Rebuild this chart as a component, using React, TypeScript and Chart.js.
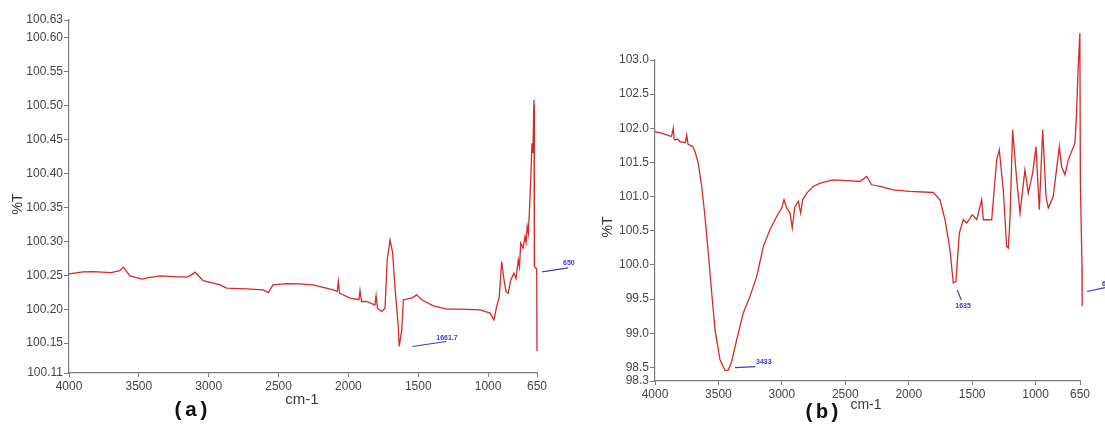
import React, { useEffect, useRef } from "react";
import { Chart, registerables } from "chart.js";
Chart.register(...registerables);

// ---------- shared axis ticks ----------
const xTicks = [4000, 3500, 3000, 2500, 2000, 1500, 1000, 650];

// ---------- panel (a) ----------
const wnA = [
  4000, 3900, 3828, 3700, 3635, 3611, 3563, 3479, 3420, 3349, 3250, 3158, 3122, 3098, 3041,
  2919, 2871, 2728, 2611, 2573, 2540, 2442, 2347, 2253, 2203, 2108, 2080, 2072, 2063, 1989,
  1925, 1917, 1906, 1869, 1810, 1802, 1792, 1762, 1738, 1722, 1702, 1683, 1667, 1643, 1636,
  1618, 1607, 1583, 1547, 1511, 1475, 1392, 1296, 1201, 1058, 986, 958, 939, 920, 903,
  886, 872, 856, 838, 815, 800, 784, 775, 767, 750, 736, 728, 720, 712, 705,
  695, 686, 679, 672, 671, 669, 657, 652, 650,
];
const tA = [
  100.252, 100.255, 100.2554, 100.254, 100.2569, 100.2619, 100.2491, 100.2442, 100.247, 100.2491,
  100.248, 100.2472, 100.2506, 100.2546, 100.2422, 100.2359, 100.231, 100.23, 100.2285, 100.2245,
  100.2359, 100.2378, 100.2373, 100.2359, 100.2333, 100.2285, 100.226, 100.2407, 100.2236, 100.2163,
  100.214, 100.2275, 100.2113, 100.2113, 100.206, 100.2197, 100.2015, 100.1965, 100.2015, 100.2727,
  100.3021, 100.2825, 100.2333, 100.1744, 100.145, 100.1696, 100.2138, 100.2148, 100.2163, 100.2211,
  100.2138, 100.2049, 100.2001, 100.2001, 100.199, 100.1942, 100.1843, 100.2039, 100.2186, 100.2702,
  100.2432, 100.226, 100.2236, 100.2432, 100.2531, 100.245, 100.2727, 100.262, 100.2973, 100.29,
  100.307, 100.298, 100.3217, 100.312, 100.3414, 100.3905, 100.4445, 100.43, 100.5083, 100.5,
  100.263, 100.2604, 100.258, 100.138,
];
const yMinA = 100.106;
const yMaxA = 100.626;
const yTicksA = [100.15, 100.2, 100.25, 100.3, 100.35, 100.4, 100.45, 100.5, 100.55, 100.6];
const annWnA = [1636, 650];
const annTA = [100.145, 100.258];
const annLabelA = ["1661.7", "650"];

// ---------- panel (b) ----------
const wnB = [
  4000, 3950, 3908, 3870, 3856, 3850, 3842, 3820, 3803, 3760, 3750, 3740, 3730, 3703, 3685,
  3659, 3632, 3606, 3580, 3553, 3527, 3488, 3448, 3422, 3395, 3356, 3304, 3251, 3198, 3146,
  3094, 3041, 3001, 2983, 2962, 2936, 2918, 2897, 2870, 2852, 2836, 2804, 2752, 2699, 2595,
  2489, 2384, 2331, 2292, 2227, 2122, 1990, 1806, 1754, 1714, 1675, 1649, 1628, 1601, 1570,
  1543, 1499, 1464, 1425, 1412, 1346, 1307, 1286, 1255, 1228, 1215, 1202, 1181, 1149, 1123,
  1084, 1058, 1023, 997, 971, 944, 918, 900, 861, 813, 795, 769, 743, 716, 690,
  677, 664, 651, 647, 634, 633,
];
const tB = [
  101.952, 101.93, 101.904, 101.88, 102.0, 101.85, 101.83, 101.84, 101.806, 101.79, 101.904, 101.77,
  101.757, 101.732, 101.659, 101.49, 101.148, 100.709, 100.174, 99.589, 99.053, 98.614, 98.453, 98.458,
  98.589, 98.906, 99.297, 99.539, 99.832, 100.27, 100.515, 100.709, 100.832, 100.953, 100.832, 100.759,
  100.539, 100.855, 100.928, 100.759, 100.953, 101.051, 101.148, 101.197, 101.246, 101.235, 101.221, 101.294,
  101.173, 101.148, 101.099, 101.075, 101.06, 100.953, 100.661, 100.222, 99.735, 99.759, 100.466, 100.661,
  100.613, 100.734, 100.661, 100.953, 100.661, 100.661, 101.538, 101.684, 101.099, 100.27, 100.247, 100.661,
  101.977, 101.246, 100.759, 101.392, 101.051, 101.344, 101.732, 100.807, 101.977, 101.001, 100.832, 101.001,
  101.732, 101.44, 101.319, 101.538, 101.659, 101.782, 102.221, 102.902, 103.39, 101.197, 99.955, 99.393,
];
const yMinB = 98.3;
const yMaxB = 103.0;
const yTicksB = [98.5, 99.0, 99.5, 100.0, 100.5, 101.0, 101.5, 102.0, 102.5, 103.0];
const annWnB = [3448, 1649, 650];
const annTB = [98.453, 99.735, 99.61];
const annLabelB = ["3433", "1635", "650"];

const FONT = "'Liberation Sans', Arial, sans-serif";
const AXIS_COLOR = "#7a7a7a";
const TICK_COLOR = "#454545";
const LINE_COLOR = "#d42a2a";
const ANN_COLOR = "#3a3ad0";

type Ann = { dx1: number; dy1: number; dx2: number; dy2: number; tx: number; ty: number };
type Txt = { text: string; x: number; y: number; font: string; rot?: boolean; color?: string };

type PanelProps = {
  left: number;
  w: number;
  h: number;
  padTop: number;
  padRight: number;
  yWidth: number;
  xHeight: number;
  wn: number[];
  t: number[];
  yMin: number;
  yMax: number;
  yTicks: number[];
  decimals: number;
  annWn: number[];
  annT: number[];
  annLabel: string[];
  annStyle: Ann[];
  texts: Txt[];
};

function Panel(p: PanelProps) {
  const ref = useRef<HTMLCanvasElement>(null);
  useEffect(() => {
    const canvas = ref.current;
    if (!canvas) return;
    const points = p.wn.map((x, i) => ({ x, y: p.t[i] }));
    const overlay = {
      id: "overlay",
      afterDraw(chart: any) {
        const ctx = chart.ctx;
        const xs = chart.scales.x;
        const ys = chart.scales.y;
        ctx.save();
        // annotations
        p.annWn.forEach((w, i) => {
          const s = p.annStyle[i];
          const ax = xs.getPixelForValue(w);
          const ay = ys.getPixelForValue(p.annT[i]);
          ctx.strokeStyle = ANN_COLOR;
          ctx.lineWidth = 1.2;
          ctx.beginPath();
          ctx.moveTo(ax + s.dx1, ay + s.dy1);
          ctx.lineTo(ax + s.dx2, ay + s.dy2);
          ctx.stroke();
          ctx.fillStyle = ANN_COLOR;
          ctx.font = "bold 7px " + FONT;
          ctx.textAlign = "left";
          ctx.textBaseline = "middle";
          ctx.fillText(p.annLabel[i], ax + s.tx, ay + s.ty);
        });
        // texts
        p.texts.forEach((tx) => {
          ctx.save();
          ctx.fillStyle = tx.color || "#3a3a3a";
          ctx.font = tx.font;
          ctx.textAlign = "center";
          ctx.textBaseline = "middle";
          ctx.translate(tx.x, tx.y);
          if (tx.rot) ctx.rotate(-Math.PI / 2);
          ctx.fillText(tx.text, 0, 0);
          ctx.restore();
        });
        ctx.restore();
      },
    };
    const chart = new Chart(canvas, {
      type: "line",
      data: {
        datasets: [
          {
            data: points,
            borderColor: LINE_COLOR,
            borderWidth: 1.3,
            pointRadius: 0,
            tension: 0,
            fill: false,
            clip: false as any,
          },
        ],
      },
      options: {
        animation: false,
        responsive: false,
        devicePixelRatio: 1,
        parsing: false as any,
        normalized: true,
        layout: { padding: { top: p.padTop, right: p.padRight, bottom: 0, left: 0 } },
        plugins: { legend: { display: false }, tooltip: { enabled: false }, title: { display: false } },
        scales: {
          x: {
            type: "linear",
            reverse: true,
            min: 650,
            max: 4000,
            afterBuildTicks: (s: any) => {
              s.ticks = xTicks.map((v) => ({ value: v }));
            },
            afterFit: (s: any) => {
              s.height = p.xHeight;
            },
            grid: { display: true, drawOnChartArea: false, drawTicks: true, tickLength: 4, color: AXIS_COLOR },
            border: { display: true, color: AXIS_COLOR, width: 1.2 },
            ticks: {
              autoSkip: false,
              maxRotation: 0,
              padding: 2,
              color: TICK_COLOR,
              font: { family: FONT, size: 12 },
              callback: (v: any) => String(v),
            },
          },
          y: {
            type: "linear",
            min: p.yMin,
            max: p.yMax,
            afterBuildTicks: (s: any) => {
              const arr = [p.yMin, ...p.yTicks.filter((v) => v > p.yMin && v < p.yMax), p.yMax];
              s.ticks = arr.map((v) => ({ value: v }));
            },
            afterFit: (s: any) => {
              s.width = p.yWidth;
            },
            grid: { display: true, drawOnChartArea: false, drawTicks: true, tickLength: 5, color: AXIS_COLOR },
            border: { display: true, color: AXIS_COLOR, width: 1.2 },
            ticks: {
              autoSkip: false,
              padding: 1,
              color: TICK_COLOR,
              font: { family: FONT, size: 12 },
              callback: (v: any) => Number(v).toFixed(p.decimals),
            },
          },
        },
      },
      plugins: [overlay],
    } as any);
    return () => chart.destroy();
  }, []);
  return (
    <canvas
      ref={ref}
      width={p.w}
      height={p.h}
      style={{ position: "absolute", left: p.left, top: 0, width: p.w, height: p.h, display: "block" }}
    />
  );
}

export default function App() {
  return (
    <div
      style={{
        position: "fixed",
        left: 0,
        top: 0,
        width: 1105,
        height: 424,
        background: "#ffffff",
        overflow: "hidden",
      }}
    >
      <Panel
        left={0}
        w={580}
        h={424}
        padTop={20}
        padRight={43}
        yWidth={69}
        xHeight={51}
        wn={wnA}
        t={tA}
        yMin={yMinA}
        yMax={yMaxA}
        yTicks={yTicksA}
        decimals={2}
        annWn={annWnA}
        annT={annTA}
        annLabel={annLabelA}
        annStyle={[
          { dx1: 13, dy1: 0, dx2: 47, dy2: -5, tx: 37, ty: -8 },
          { dx1: 5, dy1: 2, dx2: 31, dy2: -2, tx: 26, ty: -7 },
        ]}
        texts={[
          { text: "%T", x: 18, y: 204, font: "14px " + FONT, rot: true },
          { text: "cm-1", x: 302, y: 400, font: "15px " + FONT },
          { text: "(a)", x: 191, y: 411, font: "bold 21px 'Liberation Mono', monospace", color: "#111" },
        ]}
      />
      <Panel
        left={580}
        w={525}
        h={424}
        padTop={60}
        padRight={25}
        yWidth={75}
        xHeight={43}
        wn={wnB}
        t={tB}
        yMin={yMinB}
        yMax={yMaxB}
        yTicks={yTicksB}
        decimals={1}
        annWn={annWnB}
        annT={annTB}
        annLabel={annLabelB}
        annStyle={[
          { dx1: 10, dy1: -3, dx2: 30, dy2: -4, tx: 31, ty: -8 },
          { dx1: 4, dy1: 7, dx2: 8, dy2: 17, tx: 2, ty: 23 },
          { dx1: 7, dy1: 0, dx2: 25, dy2: -4, tx: 22, ty: -7 },
        ]}
        texts={[
          { text: "%T", x: 28, y: 227, font: "14px " + FONT, rot: true },
          { text: "cm-1", x: 286, y: 405, font: "14px " + FONT },
          { text: "(b)", x: 242, y: 413, font: "bold 21px 'Liberation Mono', monospace", color: "#111" },
        ]}
      />
    </div>
  );
}
